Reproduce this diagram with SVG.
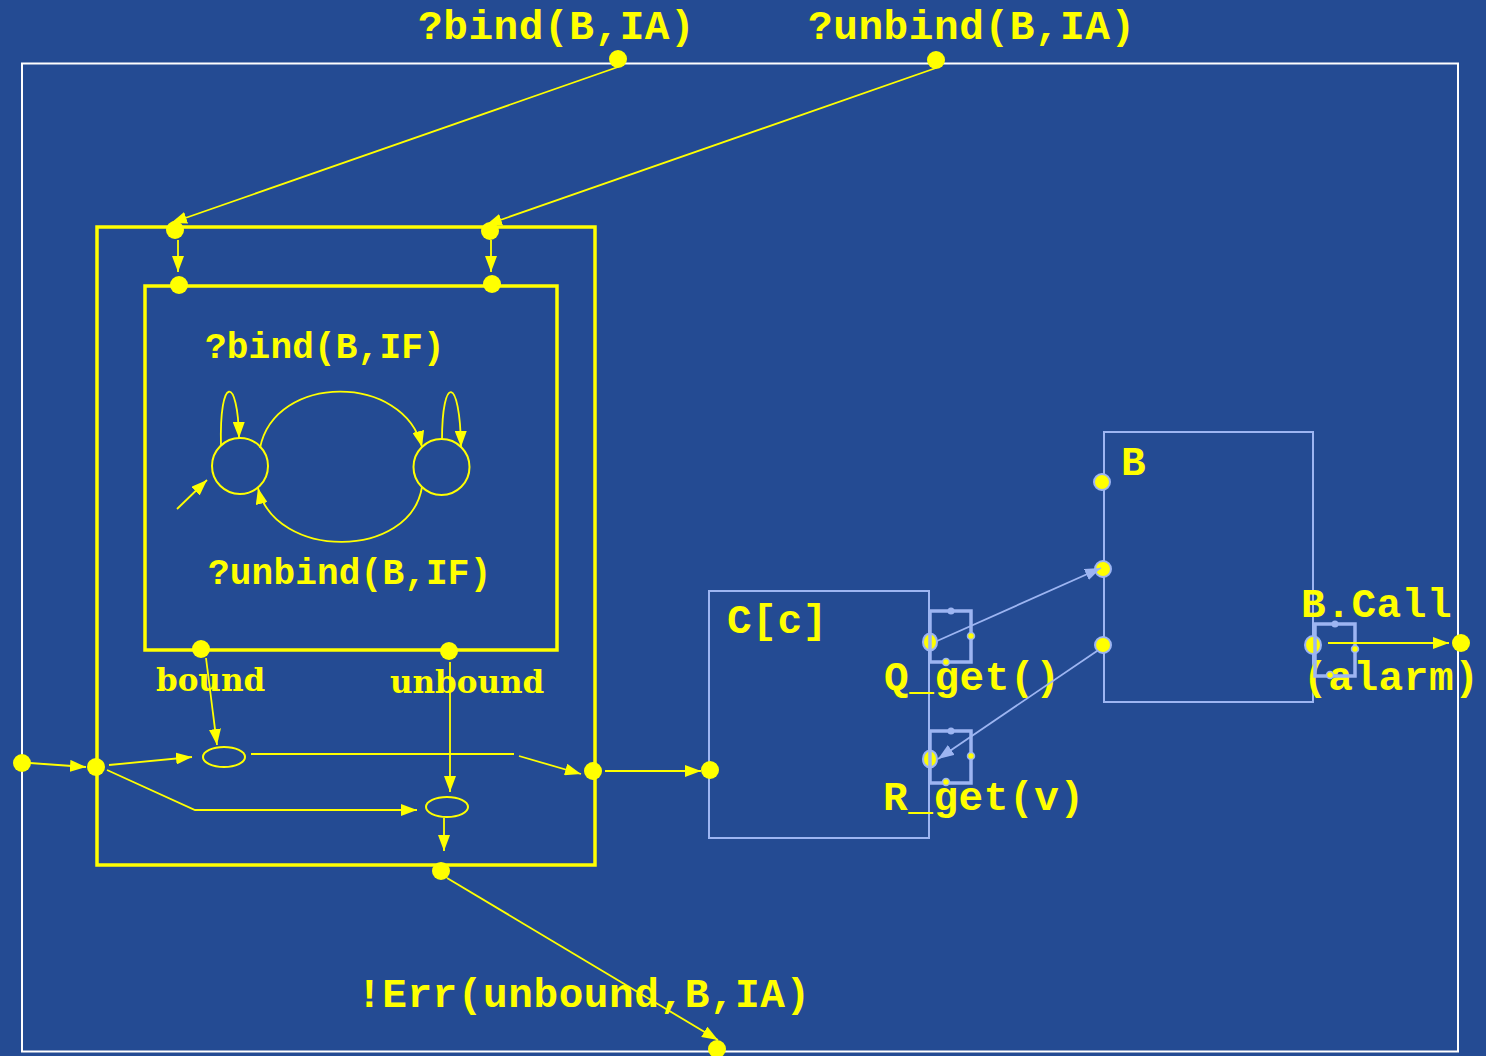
<svg xmlns="http://www.w3.org/2000/svg" width="1486" height="1056" viewBox="0 0 1486 1056">
<style>
.mono{font-family:"Liberation Mono","DejaVu Sans Mono",monospace;font-weight:bold;fill:#FFFF00}
.big{font-size:41px;letter-spacing:0.6px}
.mid{font-size:36px;letter-spacing:0.2px}
.serif{font-family:"DejaVu Serif","Liberation Serif",serif;font-weight:bold;fill:#FFFF00;font-size:31px}
.ybox{fill:none;stroke:#FFFF00;stroke-width:3.5}
.bbox{fill:none;stroke:#9DB5F2;stroke-width:2}
.port{fill:none;stroke:#9DB5F2;stroke-width:3.5}
.ydot{fill:#FFFF00}
.bdot{fill:#FFFF00;stroke:#9DB5F2;stroke-width:2}
.sdot{fill:#9DB5F2}
.sdoty{fill:#FFFF00;stroke:#9DB5F2;stroke-width:1.5}
.yl{fill:none;stroke:#FFFF00;stroke-width:1.8}
.yla{fill:none;stroke:#FFFF00;stroke-width:1.8;marker-end:url(#ay)}
.bla{fill:none;stroke:#9DB5F2;stroke-width:1.8;marker-end:url(#ab)}
.st{fill:none;stroke:#FFFF00;stroke-width:2}
</style>
<defs>
<marker id="ay" markerUnits="userSpaceOnUse" markerWidth="16" markerHeight="12" refX="16" refY="6" orient="auto"><path d="M0,0 L16,6 L0,12 z" fill="#FFFF00"/></marker>
<marker id="ab" markerUnits="userSpaceOnUse" markerWidth="16" markerHeight="12" refX="16" refY="6" orient="auto"><path d="M0,0 L16,6 L0,12 z" fill="#9DB5F2"/></marker>
</defs>
<rect x="0" y="0" width="1486" height="1056" fill="#244B93"/>

<g id="frame">
<rect x="22" y="63.5" width="1436" height="988" fill="none" stroke="#FFFFFF" stroke-width="2"/>
<text class="mono big" x="418" y="39">?bind(B,IA)</text>
<text class="mono big" x="808" y="39">?unbind(B,IA)</text>
<text class="mono big" x="357" y="1007">!Err(unbound,B,IA)</text>
<circle class="ydot" cx="618" cy="59" r="9"/>
<circle class="ydot" cx="936" cy="60" r="9"/>
<circle class="ydot" cx="22" cy="763" r="9"/>
<circle class="ydot" cx="1461" cy="643" r="9"/>
<circle class="ydot" cx="717" cy="1049" r="9"/>
</g>

<g id="binder">
<rect class="ybox" x="97" y="227" width="498" height="638"/>
<circle class="ydot" cx="175" cy="230" r="9"/>
<circle class="ydot" cx="490" cy="231" r="9"/>
<circle class="ydot" cx="96" cy="767" r="9"/>
<circle class="ydot" cx="593" cy="771" r="9"/>
<circle class="ydot" cx="441" cy="871" r="9"/>
<text class="serif" x="156" y="691">bound</text>
<text class="serif" x="390" y="693">unbound</text>
<ellipse cx="224" cy="757" rx="21" ry="10" class="st"/>
<ellipse cx="447" cy="807" rx="21" ry="10" class="st"/>
</g>

<g id="state-machine">
<rect class="ybox" x="145" y="286" width="412" height="364"/>
<circle class="ydot" cx="179" cy="285" r="9"/>
<circle class="ydot" cx="492" cy="284" r="9"/>
<circle class="ydot" cx="201" cy="649" r="9"/>
<circle class="ydot" cx="449" cy="651" r="9"/>
<text class="mono mid" x="205" y="358">?bind(B,IF)</text>
<text class="mono mid" x="208" y="584">?unbind(B,IF)</text>
<circle class="st" cx="240" cy="466" r="28"/>
<circle class="st" cx="441.5" cy="467" r="28"/>
</g>

<g id="C">
<rect class="bbox" x="709" y="591" width="220" height="247"/>
<text class="mono big" x="727" y="633">C[c]</text>
<text class="mono big" x="884" y="690">Q_get()</text>
<text class="mono big" x="883" y="810">R_get(v)</text>
<circle class="ydot" cx="710" cy="770" r="9"/>
<ellipse class="bdot" cx="930" cy="642" rx="7" ry="8.5"/>
<rect class="port" x="930" y="611" width="41" height="51"/>
<circle class="sdot" cx="951" cy="611" r="3.5"/>
<circle class="sdoty" cx="971" cy="636" r="3.5"/>
<circle class="sdoty" cx="946" cy="662" r="3.5"/>
<ellipse class="bdot" cx="930" cy="759" rx="7" ry="8.5"/>
<rect class="port" x="930" y="731" width="41" height="52"/>
<circle class="sdot" cx="951" cy="731" r="3.5"/>
<circle class="sdoty" cx="971" cy="756" r="3.5"/>
<circle class="sdoty" cx="946" cy="782" r="3.5"/>
</g>

<g id="B">
<rect class="bbox" x="1104" y="432" width="209" height="270"/>
<text class="mono big" x="1121" y="475">B</text>
<text class="mono big" x="1301" y="617">B.Call</text>
<text class="mono big" x="1303" y="690">(alarm)</text>
<circle class="bdot" cx="1102" cy="482" r="8"/>
<circle class="bdot" cx="1103" cy="569" r="8"/>
<circle class="bdot" cx="1103" cy="645" r="8"/>
<ellipse class="bdot" cx="1313" cy="645" rx="8" ry="9"/>
<rect class="port" x="1315" y="624" width="40" height="52"/>
<circle class="sdot" cx="1335" cy="624" r="3.5"/>
<circle class="sdoty" cx="1355" cy="649" r="3.5"/>
<circle class="sdoty" cx="1330" cy="675" r="3.5"/>
</g>

<g id="transitions">
<path class="yla" d="M221,446 C219,375 238,375 239,438"/>
<path class="yla" d="M442,440 C442,375 460,375 461,447"/>
<path class="yla" d="M260,448 C275,373 404,373 422,447"/>
<path class="yla" d="M422,487 C410,560 275,560 258,488"/>
<path class="yla" d="M177,509 L207,480"/>
</g>

<g id="connectors">
<path class="yla" d="M618,67 L171,223"/>
<path class="yla" d="M936,68 L486,225"/>
<path class="yla" d="M178,240 L178,272"/>
<path class="yla" d="M491,240 L491,272"/>
<path class="yla" d="M206,658 L217,745"/>
<path class="yla" d="M450,662 L450,792"/>
<path class="yla" d="M30,763 L86,767"/>
<path class="yla" d="M109,765 L192,757"/>
<path class="yla" d="M107,770 L195,810 L417,810"/>
<path class="yl" d="M251,754 L514,754"/>
<path class="yla" d="M519,756 L581,774"/>
<path class="yla" d="M605,771 L701,771"/>
<path class="yla" d="M444,818 L444,851"/>
<path class="yla" d="M447,878 L718,1040"/>
<path class="yla" d="M1328,643 L1449,643"/>
<path class="bla" d="M937,641 L1101,568"/>
<path class="bla" d="M1097,651 L938,759"/>
</g>
</svg>
